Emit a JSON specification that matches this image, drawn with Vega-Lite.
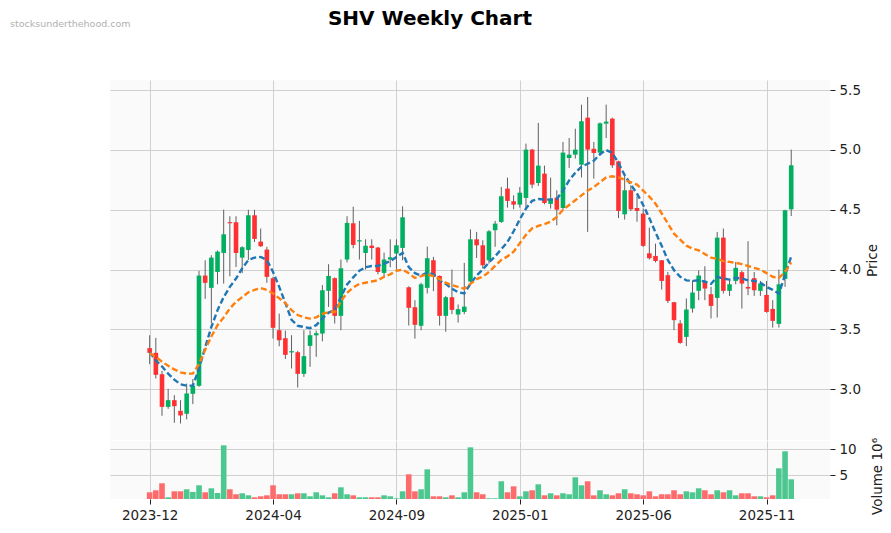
{
"$schema": "https://vega.github.io/schema/vega-lite/v6.json",
"background": "white",
"padding": {"left": 10, "top": 8, "right": 5, "bottom": 5},
"bounds": "flush",
"config": {
  "font": "DejaVu Sans",
  "view": {"fill": "#fafafa", "stroke": null},
  "axis": {"gridColor": "#d0d0d0", "gridWidth": 1, "labelFont": "DejaVu Sans", "labelFontSize": 13.5, "labelColor": "#222222", "tickColor": "#222222", "tickSize": 5, "labelPadding": 4, "domain": false, "titleFont": "DejaVu Sans", "titleFontSize": 13.5, "titleFontWeight": "normal", "titleColor": "#222222"},
  "title": {"font": "DejaVu Sans"}
},
"title": {"text": "SHV Weekly Chart", "fontSize": 20, "fontWeight": "bold", "anchor": "middle", "frame": "group", "color": "#000000", "offset": -10, "dx": -40},
"spacing": 1,
"datasets": {"w": [
{"d":"2023-12-04","o":3.343,"h":3.451,"l":3.209,"c":3.304,"v":1.73,"m1":3.31,"m2":3.30},
{"d":"2023-12-11","o":3.304,"h":3.429,"l":3.089,"c":3.120,"v":2.12,"m1":3.24,"m2":3.27},
{"d":"2023-12-18","o":3.125,"h":3.153,"l":2.777,"c":2.852,"v":3.46,"m1":3.19,"m2":3.23},
{"d":"2023-12-25","o":2.852,"h":3.003,"l":2.836,"c":2.908,"v":0.77,"m1":3.13,"m2":3.195},
{"d":"2024-01-01","o":2.908,"h":2.95,"l":2.719,"c":2.858,"v":1.92,"m1":3.08,"m2":3.165},
{"d":"2024-01-08","o":2.819,"h":2.908,"l":2.713,"c":2.780,"v":1.92,"m1":3.04,"m2":3.14},
{"d":"2024-01-15","o":2.794,"h":3.047,"l":2.747,"c":2.964,"v":2.31,"m1":3.03,"m2":3.13},
{"d":"2024-01-22","o":2.961,"h":3.084,"l":2.875,"c":3.028,"v":1.80,"m1":3.03,"m2":3.13},
{"d":"2024-01-29","o":3.028,"h":3.989,"l":3.02,"c":3.95,"v":3.08,"m1":3.17,"m2":3.21},
{"d":"2024-02-05","o":3.95,"h":4.078,"l":3.755,"c":3.889,"v":1.73,"m1":3.35,"m2":3.33},
{"d":"2024-02-12","o":3.847,"h":4.12,"l":3.554,"c":4.10,"v":2.5,"m1":3.52,"m2":3.44},
{"d":"2024-02-19","o":3.98,"h":4.16,"l":3.877,"c":4.15,"v":1.6,"m1":3.66,"m2":3.535},
{"d":"2024-02-26","o":4.139,"h":4.501,"l":3.883,"c":4.295,"v":10.77,"m1":3.77,"m2":3.60},
{"d":"2024-03-04","o":4.396,"h":4.446,"l":3.944,"c":4.387,"v":2.31,"m1":3.855,"m2":3.675},
{"d":"2024-03-11","o":4.396,"h":4.446,"l":4.022,"c":4.139,"v":1.35,"m1":3.925,"m2":3.73},
{"d":"2024-03-18","o":4.10,"h":4.195,"l":3.97,"c":4.187,"v":1.54,"m1":4.01,"m2":3.77},
{"d":"2024-03-25","o":4.164,"h":4.50,"l":4.08,"c":4.454,"v":1.15,"m1":4.08,"m2":3.81},
{"d":"2024-04-01","o":4.454,"h":4.50,"l":4.231,"c":4.256,"v":0.77,"m1":4.10,"m2":3.83},
{"d":"2024-04-08","o":4.234,"h":4.343,"l":4.19,"c":4.195,"v":0.96,"m1":4.105,"m2":3.845},
{"d":"2024-04-15","o":4.167,"h":4.19,"l":3.889,"c":3.939,"v":1.15,"m1":4.08,"m2":3.83},
{"d":"2024-04-22","o":3.928,"h":3.939,"l":3.423,"c":3.513,"v":3.08,"m1":3.98,"m2":3.80},
{"d":"2024-04-29","o":3.493,"h":3.632,"l":3.359,"c":3.409,"v":1.35,"m1":3.855,"m2":3.76},
{"d":"2024-05-06","o":3.426,"h":3.49,"l":3.253,"c":3.287,"v":1.35,"m1":3.72,"m2":3.72},
{"d":"2024-05-13","o":3.307,"h":3.451,"l":3.173,"c":3.318,"v":1.35,"m1":3.58,"m2":3.66},
{"d":"2024-05-20","o":3.309,"h":3.32,"l":3.014,"c":3.128,"v":1.54,"m1":3.53,"m2":3.62},
{"d":"2024-05-27","o":3.128,"h":3.493,"l":3.103,"c":3.276,"v":1.54,"m1":3.52,"m2":3.60},
{"d":"2024-06-03","o":3.362,"h":3.49,"l":3.187,"c":3.451,"v":0.96,"m1":3.51,"m2":3.59},
{"d":"2024-06-10","o":3.45,"h":3.49,"l":3.27,"c":3.468,"v":1.73,"m1":3.535,"m2":3.60},
{"d":"2024-06-17","o":3.465,"h":3.87,"l":3.40,"c":3.827,"v":1.15,"m1":3.59,"m2":3.63},
{"d":"2024-06-24","o":3.822,"h":4.045,"l":3.688,"c":3.947,"v":0.77,"m1":3.64,"m2":3.645},
{"d":"2024-07-01","o":3.928,"h":3.935,"l":3.549,"c":3.613,"v":1.54,"m1":3.66,"m2":3.645},
{"d":"2024-07-08","o":3.613,"h":4.084,"l":3.493,"c":4.011,"v":2.69,"m1":3.77,"m2":3.735},
{"d":"2024-07-15","o":4.084,"h":4.446,"l":4.06,"c":4.39,"v":1.35,"m1":3.875,"m2":3.805},
{"d":"2024-07-22","o":4.387,"h":4.526,"l":4.178,"c":4.206,"v":1.15,"m1":3.935,"m2":3.85},
{"d":"2024-07-29","o":4.235,"h":4.407,"l":4.084,"c":4.245,"v":0.77,"m1":3.99,"m2":3.88},
{"d":"2024-08-05","o":4.139,"h":4.253,"l":4.0,"c":4.20,"v":0.77,"m1":4.02,"m2":3.89},
{"d":"2024-08-12","o":4.20,"h":4.253,"l":4.084,"c":4.18,"v":0.77,"m1":4.03,"m2":3.90},
{"d":"2024-08-19","o":4.184,"h":4.19,"l":3.96,"c":3.98,"v":0.77,"m1":4.03,"m2":3.91},
{"d":"2024-08-26","o":3.972,"h":4.142,"l":3.93,"c":4.084,"v":1.15,"m1":4.05,"m2":3.94},
{"d":"2024-09-02","o":4.084,"h":4.253,"l":4.02,"c":4.103,"v":0.96,"m1":4.07,"m2":3.96},
{"d":"2024-09-09","o":4.134,"h":4.253,"l":4.0,"c":4.203,"v":0.58,"m1":4.105,"m2":3.99},
{"d":"2024-09-16","o":4.181,"h":4.529,"l":4.078,"c":4.437,"v":1.92,"m1":4.14,"m2":4.0},
{"d":"2024-09-23","o":3.852,"h":3.86,"l":3.532,"c":3.68,"v":5.19,"m1":4.02,"m2":3.97},
{"d":"2024-09-30","o":3.685,"h":3.744,"l":3.423,"c":3.538,"v":1.92,"m1":3.97,"m2":3.93},
{"d":"2024-10-07","o":3.53,"h":3.89,"l":3.493,"c":3.877,"v":2.31,"m1":3.95,"m2":3.945},
{"d":"2024-10-14","o":3.847,"h":4.192,"l":3.8,"c":4.095,"v":6.15,"m1":3.975,"m2":3.96},
{"d":"2024-10-21","o":4.078,"h":4.106,"l":3.82,"c":3.94,"v":0.96,"m1":3.96,"m2":3.945},
{"d":"2024-10-28","o":3.947,"h":3.95,"l":3.532,"c":3.613,"v":0.96,"m1":3.91,"m2":3.92},
{"d":"2024-11-04","o":3.613,"h":3.78,"l":3.48,"c":3.769,"v":0.77,"m1":3.88,"m2":3.89},
{"d":"2024-11-11","o":3.769,"h":4.0,"l":3.627,"c":3.663,"v":1.15,"m1":3.84,"m2":3.87},
{"d":"2024-11-18","o":3.624,"h":3.708,"l":3.557,"c":3.669,"v":0.77,"m1":3.81,"m2":3.855},
{"d":"2024-11-25","o":3.646,"h":4.056,"l":3.627,"c":3.69,"v":1.73,"m1":3.80,"m2":3.84},
{"d":"2024-12-02","o":3.90,"h":4.337,"l":3.89,"c":4.253,"v":10.38,"m1":3.88,"m2":3.88},
{"d":"2024-12-09","o":4.253,"h":4.315,"l":4.097,"c":4.203,"v":1.73,"m1":3.95,"m2":3.92},
{"d":"2024-12-16","o":4.203,"h":4.245,"l":4.008,"c":4.036,"v":1.35,"m1":4.0,"m2":3.94},
{"d":"2024-12-23","o":4.078,"h":4.33,"l":4.05,"c":4.32,"v":0.58,"m1":4.06,"m2":3.98},
{"d":"2024-12-30","o":4.329,"h":4.407,"l":4.19,"c":4.384,"v":0.58,"m1":4.11,"m2":4.03},
{"d":"2025-01-06","o":4.398,"h":4.691,"l":4.39,"c":4.613,"v":3.85,"m1":4.17,"m2":4.08},
{"d":"2025-01-13","o":4.677,"h":4.769,"l":4.518,"c":4.574,"v":1.73,"m1":4.23,"m2":4.11},
{"d":"2025-01-20","o":4.571,"h":4.621,"l":4.504,"c":4.543,"v":2.88,"m1":4.32,"m2":4.15},
{"d":"2025-01-27","o":4.543,"h":4.69,"l":4.518,"c":4.643,"v":0.96,"m1":4.42,"m2":4.22},
{"d":"2025-02-03","o":4.599,"h":5.053,"l":4.501,"c":5.003,"v":1.92,"m1":4.51,"m2":4.29},
{"d":"2025-02-10","o":5.003,"h":5.01,"l":4.68,"c":4.71,"v":2.12,"m1":4.575,"m2":4.345},
{"d":"2025-02-17","o":4.724,"h":5.226,"l":4.70,"c":4.869,"v":3.27,"m1":4.59,"m2":4.365},
{"d":"2025-02-24","o":4.802,"h":4.869,"l":4.546,"c":4.557,"v":1.15,"m1":4.585,"m2":4.38},
{"d":"2025-03-03","o":4.549,"h":4.769,"l":4.51,"c":4.593,"v":1.54,"m1":4.585,"m2":4.40},
{"d":"2025-03-10","o":4.602,"h":4.663,"l":4.37,"c":4.501,"v":1.15,"m1":4.59,"m2":4.44},
{"d":"2025-03-17","o":4.515,"h":5.067,"l":4.50,"c":4.978,"v":1.54,"m1":4.66,"m2":4.50},
{"d":"2025-03-24","o":4.933,"h":5.10,"l":4.85,"c":4.961,"v":1.35,"m1":4.745,"m2":4.54},
{"d":"2025-03-31","o":4.961,"h":5.178,"l":4.928,"c":5.003,"v":4.62,"m1":4.81,"m2":4.58},
{"d":"2025-04-07","o":4.877,"h":5.379,"l":4.77,"c":5.24,"v":3.08,"m1":4.86,"m2":4.62},
{"d":"2025-04-14","o":5.27,"h":5.443,"l":4.315,"c":5.003,"v":3.85,"m1":4.885,"m2":4.66},
{"d":"2025-04-21","o":5.01,"h":5.067,"l":4.76,"c":4.975,"v":1.15,"m1":4.91,"m2":4.69},
{"d":"2025-04-28","o":4.978,"h":5.23,"l":4.95,"c":5.223,"v":2.12,"m1":4.965,"m2":4.73},
{"d":"2025-05-05","o":5.22,"h":5.379,"l":5.10,"c":5.237,"v":1.35,"m1":5.0,"m2":4.77},
{"d":"2025-05-12","o":5.262,"h":5.27,"l":4.85,"c":4.872,"v":1.15,"m1":4.975,"m2":4.78},
{"d":"2025-05-19","o":4.905,"h":4.91,"l":4.43,"c":4.49,"v":1.54,"m1":4.89,"m2":4.77},
{"d":"2025-05-26","o":4.462,"h":4.80,"l":4.418,"c":4.663,"v":2.31,"m1":4.79,"m2":4.75},
{"d":"2025-06-02","o":4.663,"h":4.705,"l":4.49,"c":4.504,"v":1.54,"m1":4.71,"m2":4.73},
{"d":"2025-06-09","o":4.515,"h":4.613,"l":4.40,"c":4.49,"v":1.35,"m1":4.635,"m2":4.71},
{"d":"2025-06-16","o":4.468,"h":4.51,"l":4.19,"c":4.198,"v":1.15,"m1":4.54,"m2":4.66},
{"d":"2025-06-23","o":4.136,"h":4.351,"l":4.084,"c":4.095,"v":1.92,"m1":4.43,"m2":4.61},
{"d":"2025-06-30","o":4.114,"h":4.217,"l":4.06,"c":4.072,"v":0.96,"m1":4.31,"m2":4.55},
{"d":"2025-07-07","o":4.078,"h":4.08,"l":3.833,"c":3.905,"v":1.35,"m1":4.20,"m2":4.47},
{"d":"2025-07-14","o":3.953,"h":3.98,"l":3.72,"c":3.738,"v":1.35,"m1":4.08,"m2":4.385},
{"d":"2025-07-21","o":3.727,"h":3.73,"l":3.493,"c":3.577,"v":2.12,"m1":3.995,"m2":4.30},
{"d":"2025-07-28","o":3.55,"h":3.577,"l":3.38,"c":3.387,"v":1.35,"m1":3.94,"m2":4.25},
{"d":"2025-08-04","o":3.437,"h":3.758,"l":3.36,"c":3.666,"v":1.92,"m1":3.91,"m2":4.20},
{"d":"2025-08-11","o":3.674,"h":3.91,"l":3.64,"c":3.808,"v":1.73,"m1":3.905,"m2":4.175},
{"d":"2025-08-18","o":3.822,"h":3.994,"l":3.744,"c":3.95,"v":2.5,"m1":3.91,"m2":4.16},
{"d":"2025-08-25","o":3.897,"h":4.028,"l":3.744,"c":3.841,"v":2.12,"m1":3.90,"m2":4.13},
{"d":"2025-09-01","o":3.794,"h":3.855,"l":3.591,"c":3.696,"v":1.35,"m1":3.88,"m2":4.10},
{"d":"2025-09-08","o":3.763,"h":4.315,"l":3.599,"c":4.267,"v":2.12,"m1":3.94,"m2":4.09},
{"d":"2025-09-15","o":4.267,"h":4.343,"l":3.80,"c":3.822,"v":1.73,"m1":3.925,"m2":4.07},
{"d":"2025-09-22","o":3.822,"h":3.91,"l":3.78,"c":3.877,"v":2.12,"m1":3.916,"m2":4.064},
{"d":"2025-09-29","o":3.905,"h":4.064,"l":3.877,"c":4.014,"v":1.15,"m1":3.93,"m2":4.056},
{"d":"2025-10-06","o":3.978,"h":3.99,"l":3.674,"c":3.883,"v":1.54,"m1":3.925,"m2":4.045},
{"d":"2025-10-13","o":3.855,"h":4.237,"l":3.786,"c":3.841,"v":1.54,"m1":3.91,"m2":4.03},
{"d":"2025-10-20","o":3.928,"h":3.98,"l":3.78,"c":3.827,"v":0.96,"m1":3.905,"m2":4.014},
{"d":"2025-10-27","o":3.822,"h":3.905,"l":3.78,"c":3.883,"v":0.96,"m1":3.89,"m2":4.0},
{"d":"2025-11-03","o":3.788,"h":3.905,"l":3.64,"c":3.646,"v":0.77,"m1":3.855,"m2":3.97},
{"d":"2025-11-10","o":3.671,"h":3.744,"l":3.515,"c":3.571,"v":1.15,"m1":3.83,"m2":3.94},
{"d":"2025-11-17","o":3.546,"h":4.0,"l":3.515,"c":3.877,"v":6.35,"m1":3.80,"m2":3.93},
{"d":"2025-11-24","o":3.922,"h":4.50,"l":3.855,"c":4.496,"v":9.62,"m1":3.953,"m2":3.98},
{"d":"2025-12-01","o":4.504,"h":5.003,"l":4.448,"c":4.872,"v":4.23,"m1":4.11,"m2":4.06}
]},
"vconcat": [
{
  "width": 720, "height": 360,
  "title": {"text": "stocksunderthehood.com", "anchor": "start", "dx": -100, "fontSize": 9.5, "fontWeight": "normal", "color": "#b0b0b0", "offset": 52},
  "data": {"name": "w"},
  "encoding": {
    "x": {"field": "d", "type": "temporal",
      "scale": {"domain": [{"year": 2023, "month": 10, "date": 20}, {"year": 2026, "month": 1, "date": 14}], "padding": 0, "nice": false},
      "axis": {"values": [{"year": 2023, "month": 12, "date": 4}, {"year": 2024, "month": 4, "date": 22}, {"year": 2024, "month": 9, "date": 9}, {"year": 2025, "month": 1, "date": 27}, {"year": 2025, "month": 6, "date": 16}, {"year": 2025, "month": 11, "date": 3}], "labels": false, "ticks": false, "domain": false, "title": null, "grid": true, "minExtent": 0, "maxExtent": 0, "labelPadding": 0, "offset": 0}}
  },
  "layer": [
    {"mark": {"type": "rule", "color": "#606060", "strokeWidth": 1},
     "encoding": {
       "y": {"field": "l", "type": "quantitative", "title": "Price",
         "scale": {"domain": [2.575, 5.585], "zero": false, "nice": false, "padding": 0},
         "axis": {"orient": "right", "values": [3, 3.5, 4, 4.5, 5, 5.5], "format": ".1f", "title": "Price", "titleAngle": 270, "titleBaseline": "top", "titlePadding": 5, "grid": true}},
       "y2": {"field": "h"}}},
    {"mark": {"type": "bar", "width": 4.6},
     "encoding": {
       "y": {"field": "o", "type": "quantitative", "title": "Price"},
       "y2": {"field": "c"},
       "color": {"condition": {"test": "datum.c >= datum.o", "value": "#00b060"}, "value": "#fe3032"}}},
    {"mark": {"type": "line", "color": "#1f77b4", "strokeDash": [6, 3], "strokeWidth": 2.4},
     "encoding": {"y": {"field": "m1", "type": "quantitative", "title": "Price"}}},
    {"mark": {"type": "line", "color": "#ff7f0e", "strokeDash": [6, 3], "strokeWidth": 2.4},
     "encoding": {"y": {"field": "m2", "type": "quantitative", "title": "Price"}}}
  ]
},
{
  "width": 720, "height": 58,
  "data": {"name": "w"},
  "mark": {"type": "bar", "width": 5.6, "clip": true},
  "encoding": {
    "x": {"field": "d", "type": "temporal",
      "scale": {"domain": [{"year": 2023, "month": 10, "date": 20}, {"year": 2026, "month": 1, "date": 14}], "padding": 0, "nice": false},
      "axis": {"values": [{"year": 2023, "month": 12, "date": 4}, {"year": 2024, "month": 4, "date": 22}, {"year": 2024, "month": 9, "date": 9}, {"year": 2025, "month": 1, "date": 27}, {"year": 2025, "month": 6, "date": 16}, {"year": 2025, "month": 11, "date": 3}], "format": "%Y-%m", "title": null, "grid": true, "labelPadding": 4}},
    "y": {"field": "v", "type": "quantitative",
      "scale": {"domain": [0.44, 11.6], "zero": false, "nice": false, "padding": 0},
      "axis": {"orient": "right", "values": [5, 10], "title": "Volume  10⁶", "titleAngle": 270, "titleBaseline": "top", "titlePadding": 14, "titleY": 35, "grid": true}},
    "color": {"condition": {"test": "datum.c >= datum.o", "value": "#4dc790"}, "value": "#fd6b6c"}
  }
}
]
}
